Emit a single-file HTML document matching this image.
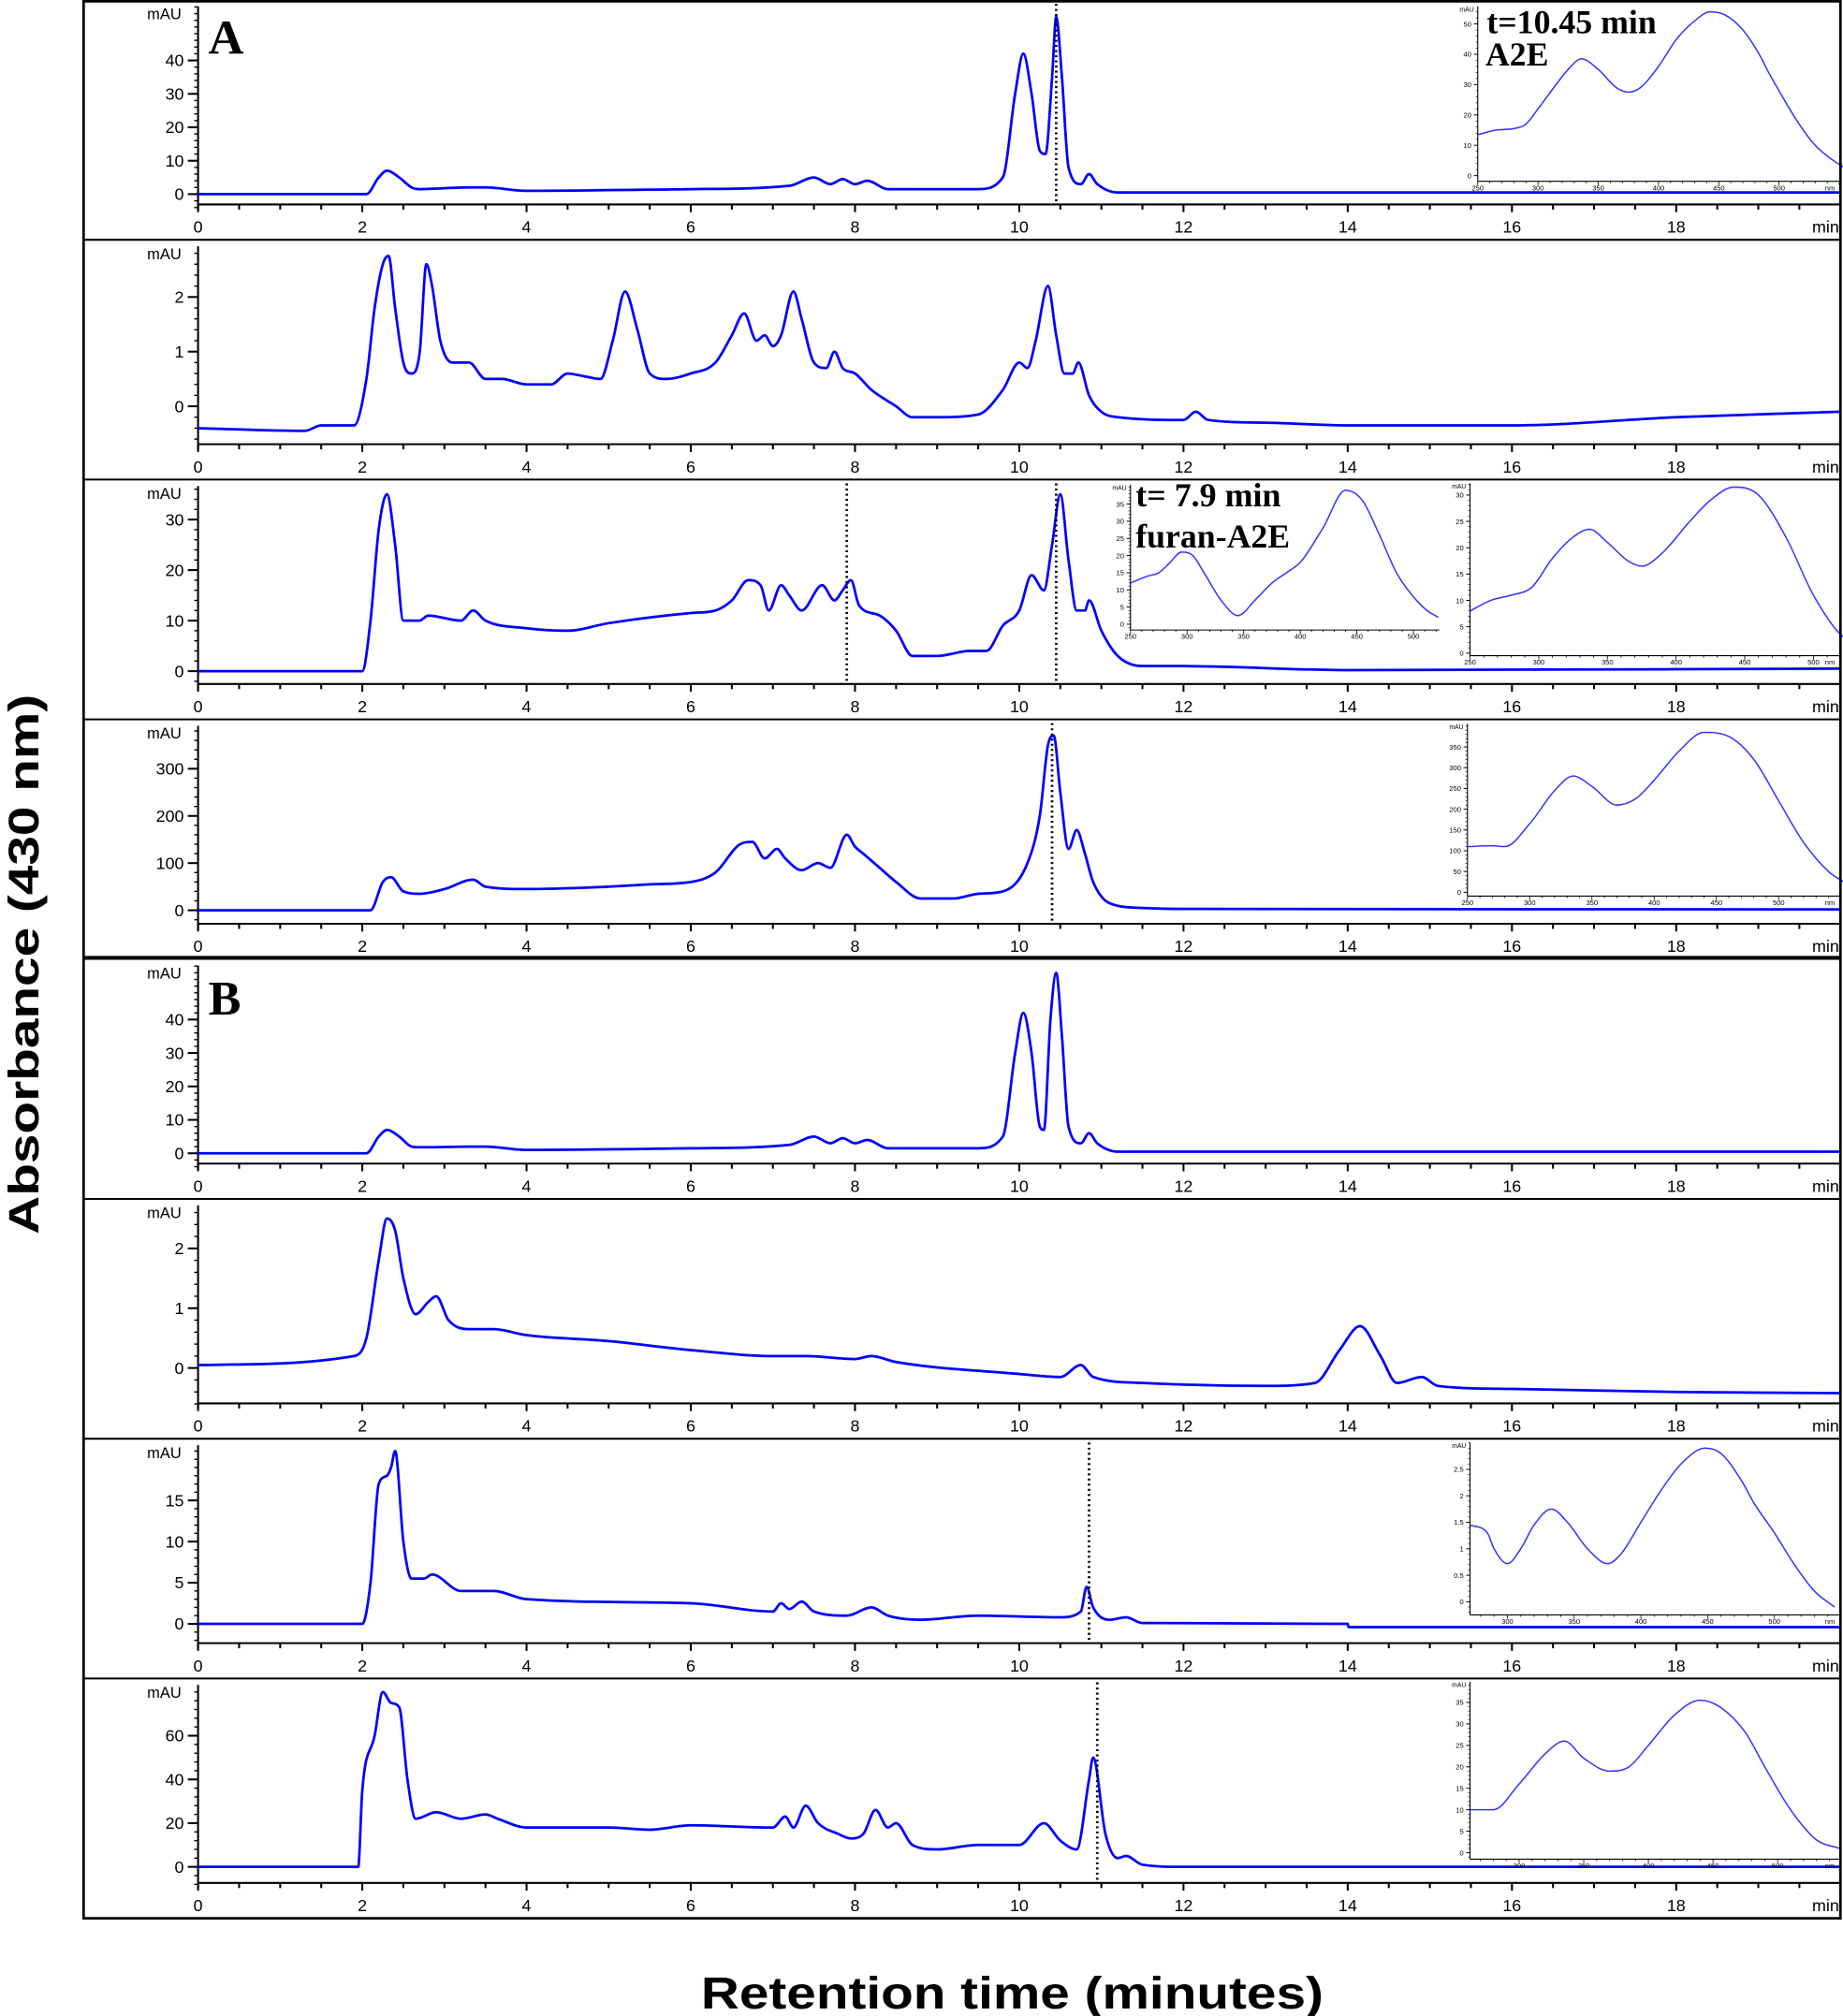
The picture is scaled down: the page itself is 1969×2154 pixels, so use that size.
<!DOCTYPE html>
<html><head><meta charset="utf-8"><title>HPLC chromatograms</title>
<style>
html,body{margin:0;padding:0;background:#fff;}
svg{display:block;}
text{font-family:"Liberation Sans",Arial,sans-serif;}
.serif{font-family:"Liberation Serif","Times New Roman",serif;font-weight:bold;}
</style></head>
<body>
<svg id="chart" xmlns="http://www.w3.org/2000/svg" width="1969" height="2154" viewBox="0 0 1433 1568" preserveAspectRatio="none">
<rect x="0" y="0" width="1433" height="1568" fill="#fff"/>
<g id="panels"></g>
<rect x="65" y="1" width="1366" height="1491" fill="none" stroke="#000" stroke-width="2"/>
<line x1="65" y1="745" x2="1431" y2="745" stroke="#000" stroke-width="3"/>
<text class="serif" x="162" y="42" font-size="38">A</text>
<text class="serif" x="162" y="789" font-size="38">B</text>
<text transform="translate(30,750) rotate(-90)" text-anchor="middle" font-size="33" font-weight="bold" textLength="420" lengthAdjust="spacingAndGlyphs">Absorbance (430 nm)</text>
<text x="787" y="1562" text-anchor="middle" font-size="35" font-weight="bold" textLength="484" lengthAdjust="spacingAndGlyphs">Retention time (minutes)</text>
<text class="serif" x="1156" y="26" font-size="26" textLength="132" lengthAdjust="spacingAndGlyphs">t=10.45 min</text>
<text class="serif" x="1155" y="51" font-size="26">A2E</text>
<text class="serif" x="883" y="394" font-size="26" textLength="113" lengthAdjust="spacingAndGlyphs">t= 7.9 min</text>
<text class="serif" x="883" y="426" font-size="26" textLength="120" lengthAdjust="spacingAndGlyphs">furan-A2E</text>
</svg>
<script>
// ---- chromatogram data (time in min, absorbance in mAU) ----
const p1Times=[0,2.05,2.2,2.3,2.45,2.6,2.7,3.3,3.5,4,6,7.2,7.5,7.7,7.85,8,8.15,8.4,9.5,9.8,9.95,10.05,10.15,10.25,10.32,10.4,10.45,10.52,10.6,10.75,10.85,10.95,11.2,20];
const p1Vals=[0,0,5,7,5,2,1.5,2,2,1,1.5,2.5,5,3,4.5,3,4,1.5,1.5,5,30,42,30,13,12,35,53,35,8,3,6,3,0.5,0.5];
const p2Times=[0,1.3,1.5,1.9,2.05,2.15,2.25,2.32,2.4,2.5,2.6,2.7,2.78,2.85,2.95,3.1,3.3,3.5,3.7,4,4.3,4.5,4.7,4.9,5.05,5.2,5.35,5.5,5.7,6,6.3,6.5,6.65,6.8,6.9,7.0,7.1,7.25,7.35,7.5,7.65,7.75,7.85,8.0,8.2,8.5,8.7,9.0,9.5,9.8,10.0,10.1,10.2,10.35,10.45,10.55,10.65,10.72,10.85,11,11.2,12,12.15,12.3,13,14,16,18,20];
const p2Vals=[-0.4,-0.45,-0.35,-0.35,0.5,1.8,2.6,2.75,1.8,0.8,0.6,1.0,2.6,2.2,1.2,0.8,0.8,0.5,0.5,0.4,0.4,0.6,0.55,0.5,1.2,2.1,1.4,0.6,0.5,0.6,0.8,1.3,1.7,1.2,1.3,1.1,1.3,2.1,1.6,0.8,0.7,1.0,0.7,0.6,0.3,0,-0.2,-0.2,-0.15,0.3,0.8,0.7,1.2,2.2,1.3,0.6,0.6,0.8,0.2,-0.1,-0.2,-0.25,-0.1,-0.25,-0.3,-0.35,-0.35,-0.2,-0.1];
const p3Times=[0,2,2.1,2.2,2.3,2.4,2.5,2.7,2.8,3.2,3.35,3.5,4,4.5,5,6,6.3,6.5,6.7,6.85,6.95,7.1,7.2,7.35,7.6,7.75,7.85,7.95,8.05,8.3,8.5,8.7,9.0,9.4,9.6,9.8,10.0,10.15,10.3,10.4,10.5,10.6,10.7,10.8,10.85,11.0,11.2,11.5,12,14,20];
const p3Vals=[0,0,10,28,35,25,10,10,11,10,12,10,8.5,8,9.5,11.5,12,14,18,17,12,17,15,12,17,14,16,18,13,11,8,3,3,4,4,9,12,19,16,25,35,22,12,12,14,8,3,1,1,0.2,0.5];
const p4Times=[0,2.1,2.25,2.35,2.5,2.7,3,3.35,3.5,4,5,5.5,6,6.3,6.6,6.75,6.9,7.05,7.15,7.35,7.55,7.7,7.9,8.0,8.1,8.3,8.5,8.8,9.2,9.5,9.8,10.1,10.25,10.35,10.42,10.5,10.6,10.7,10.8,10.9,11.1,11.5,12,20];
const p4Vals=[0,0,60,70,40,35,45,65,50,45,50,55,60,80,140,145,110,130,110,85,100,90,160,135,120,90,60,25,25,35,40,100,200,350,370,250,130,170,120,60,15,5,3,2];
const p5Times=[0,2.05,2.2,2.3,2.45,2.6,2.7,3.3,3.5,4,6,7.2,7.5,7.7,7.85,8,8.15,8.4,9.5,9.8,9.95,10.05,10.15,10.25,10.3,10.38,10.45,10.52,10.6,10.75,10.85,10.95,11.2,20];
const p5Vals=[0,0,5,7,5,2,1.8,2,2,1,1.5,2.5,5,3,4.5,3,4,1.5,1.5,5,30,42,30,8,7,40,54,35,8,3,6,3,0.5,0.5];
const p6Times=[0,1.9,2.05,2.2,2.3,2.4,2.5,2.65,2.8,2.9,3.05,3.3,3.6,4,5,6,7,7.4,8,8.2,8.5,10,10.5,10.75,10.9,11.5,13,13.6,13.9,14.15,14.4,14.6,14.9,15.1,16,18,20];
const p6Vals=[0.05,0.2,0.5,1.8,2.5,2.3,1.5,0.9,1.1,1.2,0.8,0.65,0.65,0.55,0.45,0.3,0.2,0.2,0.15,0.2,0.1,-0.1,-0.15,0.05,-0.15,-0.25,-0.3,-0.25,0.3,0.7,0.2,-0.25,-0.15,-0.3,-0.35,-0.4,-0.42];
const p7Times=[0,2,2.1,2.2,2.3,2.35,2.4,2.5,2.6,2.75,2.85,3.2,3.6,4,6,7,7.1,7.2,7.35,7.5,7.9,8.2,8.4,8.8,9.5,10.5,10.75,10.82,10.9,11.1,11.3,11.5,14,14.01,20];
const p7Vals=[0,0,5,17,18,19,21,10,5.5,5.5,6,4,4,3,2.5,1.5,2.5,1.8,2.7,1.5,1,2,1,0.5,1,0.8,1.5,4.5,2,0.5,0.8,0.1,0,-0.4,-0.4];
const p8Times=[0,1.95,2.0,2.15,2.25,2.35,2.45,2.55,2.65,2.9,3.2,3.5,3.65,4,5,5.5,6,7,7.15,7.25,7.4,7.55,7.8,7.95,8.1,8.25,8.4,8.5,8.7,9,9.5,10,10.3,10.5,10.7,10.85,10.9,11.05,11.2,11.3,11.5,12,20];
const p8Vals=[0,0,35,60,80,75,73,40,22,25,22,24,22,18,18,17,19,18,23,18,28,20,15,13,15,26,18,20,10,8,10,10,20,12,8,40,50,15,4,5,1,0,0];
// ---- spectra data (wavelength nm, absorbance mAU) ----
const s1Wl=[250,265,280,290,300,315,325,336,350,365,375,385,400,415,430,443,455,470,485,490,500,515,530,545,555];
const s1Ab=[13.5,15,15.5,17,22,30,35,38.5,35,29,27.5,29,36,45,51,54,53,48,39,35,28,18,10,5,2.5];
const s2Wl=[250,265,275,285,295,305,315,330,345,360,375,390,400,420,440,455,470,485,500,512,522];
const s2Ab=[12,14,15,18,21,20,15,7,2.5,7,12,15.5,18,28,39,36,26,15,8,4,2];
const s3Wl=[250,265,280,295,310,325,337,350,365,375,390,410,425,442,460,480,500,520,540];
const s3Ab=[8,10,11,12.5,18,22,23.5,21,17.5,16.5,19,25,29,31.5,30,22,11,3.5,1.5];
const s4Wl=[250,270,280,300,320,335,350,370,385,400,420,440,460,480,500,520,540,555];
const s4Ab=[110,112,110,165,245,280,255,210,225,270,340,385,375,320,220,120,50,20];
const s7Wl=[272,285,290,300,310,320,333,345,360,375,385,400,415,430,448,460,475,485,500,515,530,545];
const s7Ab=[1.45,1.3,1.0,0.72,1.0,1.45,1.75,1.5,1.0,0.72,0.9,1.5,2.1,2.6,2.9,2.8,2.3,1.85,1.3,0.7,0.2,-0.1];
const s8Wl=[262,280,300,320,335,350,370,385,400,420,440,455,475,490,510,530,548];
const s8Ab=[10,10,16,23,26,22,19,20,25,32,35.5,34,28,20,10,3,1];
// ---- axis tick labels ----
const timeTicks=[0,2,4,6,8,10,12,14,16,18];
const p1YTicks=[0,10,20,30,40];
const p2YTicks=[0,1,2];
const p3YTicks=[0,10,20,30];
const p4YTicks=[0,100,200,300];
const p5YTicks=[0,10,20,30,40];
const p6YTicks=[0,1,2];
const p7YTicks=[0,5,10,15];
const p8YTicks=[0,20,40,60];
const marker1Times=[10.45];
const marker3Times=[7.9,10.45];
const marker4Times=[10.4];
const marker7Times=[10.85];
const marker8Times=[10.95];
const s1YTicks=[0,10,20,30,40,50];
const s2YTicks=[0,5,10,15,20,25,30,35];
const s3YTicks=[0,5,10,15,20,25,30];
const s4YTicks=[0,50,100,150,200,250,300,350];
const s7YTicks=[0,0.5,1,1.5,2,2.5];
const s8YTicks=[0,5,10,15,20,25,30,35];
const nmTicksA=[250,300,350,400,450,500];
const nmTicksB=[300,350,400,450,500];

const NS='http://www.w3.org/2000/svg';
const root=document.getElementById('panels');
function mk(tag,attrs,parent){const e=document.createElementNS(NS,tag);for(const k in attrs)e.setAttribute(k,attrs[k]);(parent||root).appendChild(e);return e;}

// monotone cubic (Fritsch-Carlson) path through screen points
function smoothPath(xs,ys){
  const n=xs.length;const d=[],m=[];
  for(let i=0;i<n-1;i++){d.push((ys[i+1]-ys[i])/((xs[i+1]-xs[i])||1e-6));}
  m[0]=d[0];m[n-1]=d[n-2];
  for(let i=1;i<n-1;i++){m[i]=(d[i-1]*d[i]<=0)?0:(d[i-1]+d[i])/2;}
  for(let i=0;i<n-1;i++){if(d[i]===0){m[i]=0;m[i+1]=0;continue;}
    const a=m[i]/d[i],b=m[i+1]/d[i],s=a*a+b*b;if(s>9){const t=3/Math.sqrt(s);m[i]=t*a*d[i];m[i+1]=t*b*d[i];}}
  let p='M'+xs[0].toFixed(2)+','+ys[0].toFixed(2);
  for(let i=0;i<n-1;i++){const h=(xs[i+1]-xs[i])/3;
    p+=' C'+(xs[i]+h).toFixed(2)+','+(ys[i]+m[i]*h).toFixed(2)+' '+(xs[i+1]-h).toFixed(2)+','+(ys[i+1]-m[i+1]*h).toFixed(2)+' '+xs[i+1].toFixed(2)+','+ys[i+1].toFixed(2);}
  return p;
}

const X0=154, XS=63.85;
function xOf(t){return X0+t*XS;}

const panels=[
 {top:0,zero:151,sc:2.6,yt:p1YTicks,minor:2,T:p1Times,V:p1Vals,marks:marker1Times},
 {top:186.5,zero:316,sc:42.5,yt:p2YTicks,minor:0.2,T:p2Times,V:p2Vals,marks:[]},
 {top:373,zero:522,sc:3.93,yt:p3YTicks,minor:2,T:p3Times,V:p3Vals,marks:marker3Times},
 {top:559.5,zero:708,sc:0.367,yt:p4YTicks,minor:20,T:p4Times,V:p4Vals,marks:marker4Times},
 {top:746,zero:897,sc:2.6,yt:p5YTicks,minor:2,T:p5Times,V:p5Vals,marks:[]},
 {top:932.5,zero:1064,sc:46.5,yt:p6YTicks,minor:0.2,T:p6Times,V:p6Vals,marks:[]},
 {top:1119,zero:1263,sc:6.4,yt:p7YTicks,minor:1,T:p7Times,V:p7Vals,marks:marker7Times},
 {top:1305.5,zero:1452,sc:1.7,yt:p8YTicks,minor:4,T:p8Times,V:p8Vals,marks:marker8Times}
];

panels.forEach((p,i)=>{
  const g=mk('g',{});
  
  
  if(i>0&&i!==4){const d=mk('line',{x1:65,x2:1431,y1:p.top,y2:p.top,stroke:'#000','stroke-width':1.5},g);
    
    }
  const axY=p.top+159, yTop=p.top+5;
  const xa=mk('line',{x1:X0,x2:1431,y1:axY,y2:axY,stroke:'#000','stroke-width':1.5},g);
  
  
  const ya=mk('line',{x1:X0,x2:X0,y1:yTop,y2:axY+4,stroke:'#000','stroke-width':1.5},g);
  
  
  for(let t=0;t<=20.01;t+=0.5){const maj=Math.abs(t/2-Math.round(t/2))<1e-6;
    mk('line',{x1:xOf(t),x2:xOf(t),y1:axY,y2:axY+(maj?6:4),stroke:'#000','stroke-width':1.5},g);}
  timeTicks.forEach(t=>{const tx=mk('text',{x:xOf(t),y:axY+22,'text-anchor':'middle','font-size':13},g);tx.textContent=t;
    
    });
  const mn=mk('text',{x:1409,y:axY+22,'font-size':13},g);mn.textContent='min';
  
  
  const vMin=(p.zero-(axY+4))/p.sc, vMax=(p.zero-yTop)/p.sc;
  const k0=Math.ceil(vMin/p.minor), k1=Math.floor(vMax/p.minor);
  for(let k=k0;k<=k1;k++){const y=p.zero-k*p.minor*p.sc;mk('line',{x1:X0-3,x2:X0,y1:y,y2:y,stroke:'#000','stroke-width':1},g);}
  p.yt.forEach(v=>{const y=p.zero-v*p.sc;mk('line',{x1:X0-8,x2:X0,y1:y,y2:y,stroke:'#000','stroke-width':1.5},g);
    const tx=mk('text',{x:X0-11,y:y+4.5,'text-anchor':'end','font-size':13},g);tx.textContent=v;
    
    });
  const mau=mk('text',{x:X0-13,y:p.top+15,'text-anchor':'end','font-size':12},g);mau.textContent='mAU';
  
  
  const xs=p.T.map(xOf), ys=p.V.map(v=>p.zero-v*p.sc);
  const tr=mk('path',{d:smoothPath(xs,ys),fill:'none',stroke:'#0000ff','stroke-width':2,'stroke-linejoin':'round'},g);
  
  
  p.marks.forEach(t=>{const l=mk('line',{x1:xOf(t),x2:xOf(t),y1:p.top+3,y2:axY,stroke:'#000','stroke-width':2,'stroke-dasharray':'1.5 2.5'},g);
    
    });
});

const insets=[
 {x0:1149,wl0:250,nmSc:0.937,xEnd:1431,zero:136.6,sc:2.36,top:5,axY:141,yt:s1YTicks,minor:2,xt:nmTicksA,W:s1Wl,A:s1Ab},
 {x0:879,wl0:250,nmSc:0.88,xEnd:1119,zero:485.5,sc:2.67,top:377,axY:490,yt:s2YTicks,minor:1,xt:nmTicksA,W:s2Wl,A:s2Ab},
 {x0:1143,wl0:250,nmSc:1.068,xEnd:1431,zero:508,sc:4.1,top:376,axY:510,yt:s3YTicks,minor:1,xt:nmTicksA,W:s3Wl,A:s3Ab},
 {x0:1141,wl0:250,nmSc:0.968,xEnd:1431,zero:694,sc:0.323,top:563,axY:697,yt:s4YTicks,minor:10,xt:nmTicksA,W:s4Wl,A:s4Ab},
 {x0:1143,wl0:272,nmSc:1.038,xEnd:1431,zero:1245.8,sc:41.2,top:1122,axY:1256,yt:s7YTicks,minor:0.1,xt:nmTicksB,W:s7Wl,A:s7Ab},
 {x0:1143,wl0:262,nmSc:1.005,xEnd:1431,zero:1441,sc:3.34,top:1308,axY:1446,yt:s8YTicks,minor:1,xt:nmTicksB,W:s8Wl,A:s8Ab}
];
insets.forEach((s,i)=>{
  const g=mk('g',{});
  
  
  const wx=w=>s.x0+(w-s.wl0)*s.nmSc;
  mk('line',{x1:s.x0,x2:s.xEnd,y1:s.axY,y2:s.axY,stroke:'#000','stroke-width':0.8},g);
  mk('line',{x1:s.x0,x2:s.x0,y1:s.top,y2:s.axY,stroke:'#000','stroke-width':0.8},g);
  const k0=Math.ceil((s.zero-s.axY)/s.sc/s.minor), k1=Math.floor((s.zero-s.top)/s.sc/s.minor);
  for(let k=k0;k<=k1;k++){const y=s.zero-k*s.minor*s.sc;mk('line',{x1:s.x0-1.5,x2:s.x0,y1:y,y2:y,stroke:'#000','stroke-width':0.5},g);}
  s.yt.forEach(v=>{const y=s.zero-v*s.sc;mk('line',{x1:s.x0-3,x2:s.x0,y1:y,y2:y,stroke:'#000','stroke-width':0.7},g);
    const tx=mk('text',{x:s.x0-5,y:y+2,'text-anchor':'end','font-size':5.5},g);tx.textContent=v;});
  for(let w=Math.ceil(s.wl0/10)*10;wx(w)<=s.xEnd;w+=10){mk('line',{x1:wx(w),x2:wx(w),y1:s.axY,y2:s.axY+(w%50===0?3:1.5),stroke:'#000','stroke-width':0.6},g);}
  s.xt.forEach(w=>{const tx=mk('text',{x:wx(w),y:s.axY+7,'text-anchor':'middle','font-size':5.5},g);tx.textContent=w;});
  if(s.xEnd>1400){const nm=mk('text',{x:s.xEnd-12,y:s.axY+7,'font-size':5.5},g);nm.textContent='nm';}
  const mu=mk('text',{x:s.x0-3,y:s.top+4,'text-anchor':'end','font-size':5},g);mu.textContent='mAU';
  const xs=s.W.map(wx), ys=s.A.map(a=>s.zero-a*s.sc);
  const sp=mk('path',{d:smoothPath(xs,ys),fill:'none',stroke:'#3333ff','stroke-width':1.1},g);
  
  
});
</script>
</body></html>
